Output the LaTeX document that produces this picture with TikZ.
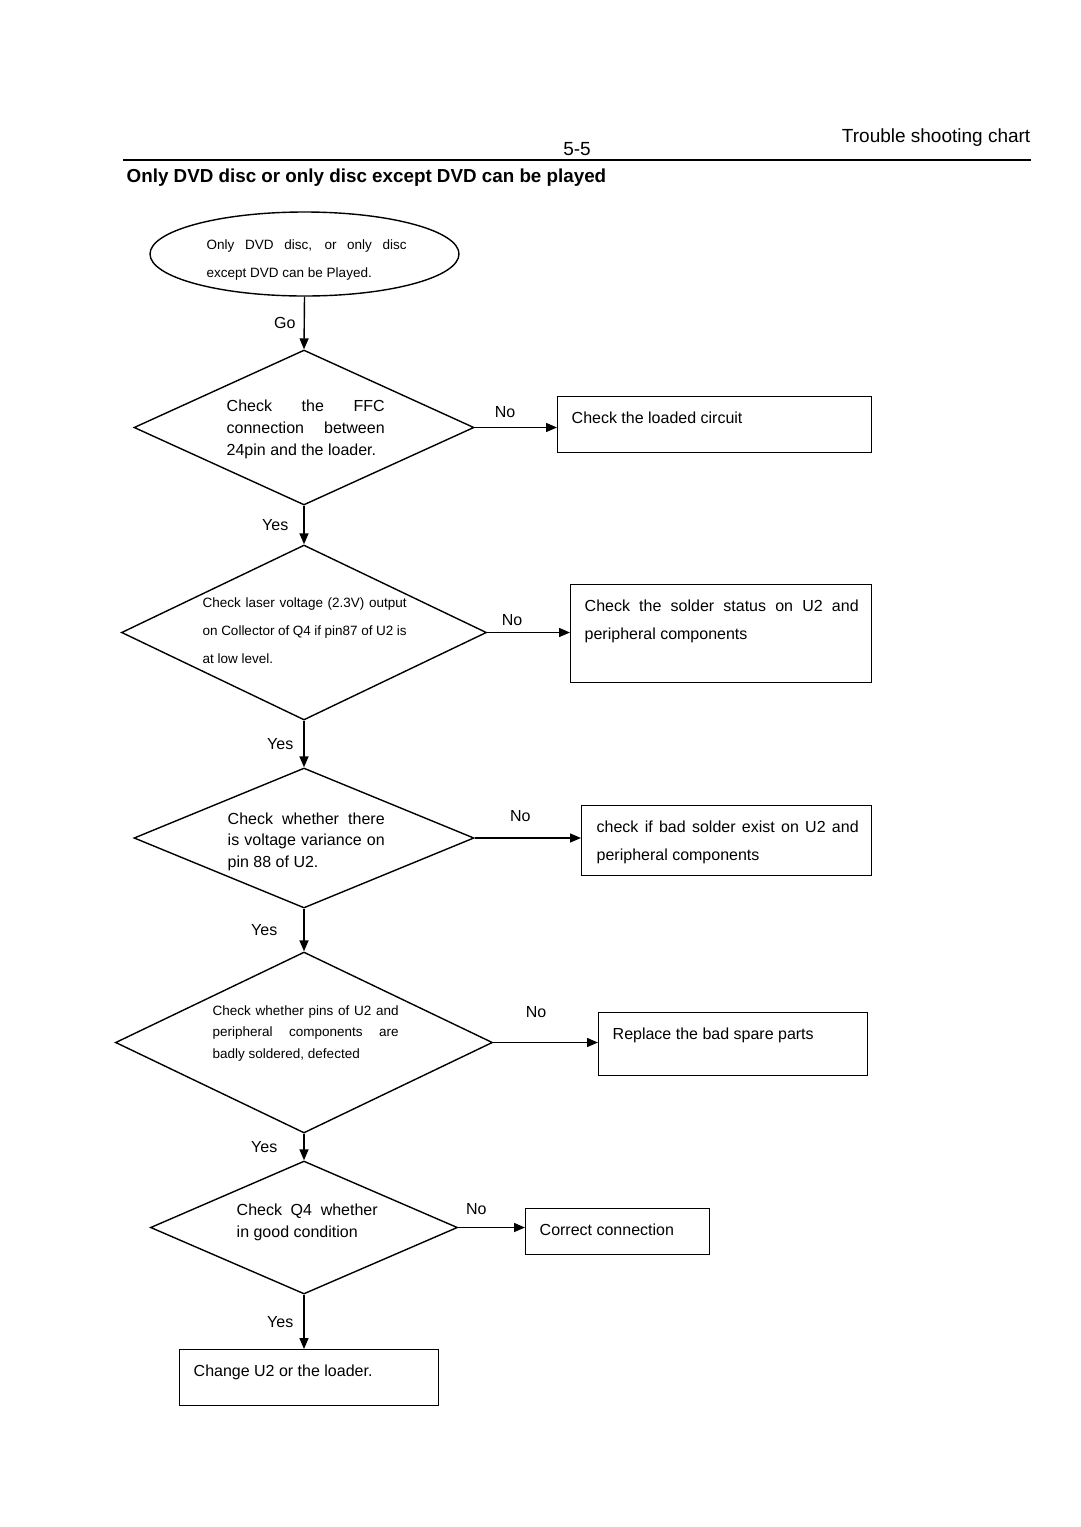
\documentclass[tikz,border=0pt]{standalone}
\usepackage{fontspec}
\setmainfont{Liberation Sans}
\usetikzlibrary{arrows.meta,positioning,calc,shapes.geometric}

\begin{document}
\begin{tikzpicture}[
  x=1pt, y=-1pt,
  >={Triangle[length=11pt,width=9pt]},
  line width=1.4pt,
  dia/.style={draw, diamond, inner sep=0pt},
  box/.style={draw, rectangle, inner sep=0pt, anchor=north west},
  txt/.style={anchor=north west, inner sep=0pt, align=justify, font=\fontsize{16}{22}\selectfont},
  smalltxt/.style={txt, font=\fontsize{13.5}{28}\selectfont},
  lbl/.style={inner sep=0pt, font=\fontsize{16}{19}\selectfont},
  arr/.style={->},
]
\useasboundingbox (0,0) rectangle (1080,1527);

%------------------- Header -------------------
\node (chart) [anchor=east, inner sep=0pt, font=\fontsize{19}{22}\selectfont] at (1031,138) {Trouble shooting chart};
\node (page) [inner sep=0pt, font=\fontsize{19}{22}\selectfont] at (577,149) {5-5};
\coordinate (ruleL) at (123,160);
\coordinate (ruleR) at (1031,160);
\draw[line width=1.5pt] (ruleL) -- (ruleR);
\node (title) [anchor=west, inner sep=0pt, font=\bfseries\fontsize{18.8}{22}\selectfont] at (126,178) {Only DVD disc or only disc except DVD can be played};

%------------------- Start -------------------
\node (start) [draw, ellipse, inner sep=0pt, minimum width=309pt, minimum height=84pt] at (304.5,254) {};
\node (starttxt) [smalltxt, text width=200pt] at (206,239) {Only DVD disc, or only disc\linebreak except DVD can be Played.};

%------------------- Decisions -------------------
\node (d1) [dia, minimum width=340pt, minimum height=155pt] at (304,427.5) {};
\node (d1txt) [txt, text width=158pt] at (226,399) {Check the FFC\linebreak connection between\linebreak 24pin and the loader.};

\node (d2) [dia, minimum width=365pt, minimum height=175pt] at (304,632.5) {};
\node (d2txt) [smalltxt, text width=204pt] at (202,597) {Check laser voltage (2.3V) output\linebreak on Collector of Q4 if pin87 of U2 is\linebreak at low level.};

\node (d3) [dia, minimum width=340pt, minimum height=140pt] at (304,838) {};
\node (d3txt) [txt, text width=157pt, font=\fontsize{16}{21.5}\selectfont] at (227,812) {Check whether there\linebreak is voltage variance on\linebreak pin 88 of U2.};

\node (d4) [dia, minimum width=377pt, minimum height=181pt] at (304,1042.5) {};
\node (d4txt) [smalltxt, text width=186pt, font=\fontsize{13.5}{21.5}\selectfont] at (212,1005) {Check whether pins of U2 and\linebreak peripheral components are\linebreak badly soldered, defected};

\node (d5) [dia, minimum width=307pt, minimum height=133pt] at (304,1227.5) {};
\node (d5txt) [txt, text width=141pt] at (236,1203) {Check Q4 whether\linebreak in good condition};

%------------------- Boxes -------------------
\node (b1) [box, minimum width=314pt, minimum height=56pt] at (557,396) {};
\node (b1txt) [txt] at (571,411) {Check the loaded circuit};

\node (b2) [box, minimum width=301pt, minimum height=98pt] at (570,584) {};
\node (b2txt) [txt, text width=274pt, font=\fontsize{16}{28}\selectfont] at (584,599) {Check the solder status on U2 and\linebreak peripheral components};

\node (b3) [box, minimum width=290pt, minimum height=70pt] at (581,805) {};
\node (b3txt) [txt, text width=262pt, font=\fontsize{16}{28}\selectfont] at (596,820) {check if bad solder exist on U2 and\linebreak peripheral components};

\node (b4) [box, minimum width=269pt, minimum height=63pt] at (598,1012) {};
\node (b4txt) [txt] at (612,1027) {Replace the bad spare parts};

\node (b5) [box, minimum width=184pt, minimum height=46pt] at (525,1208) {};
\node (b5txt) [txt] at (539,1223) {Correct connection};

\node (b6) [box, minimum width=259pt, minimum height=56pt] at (179,1349) {};
\node (b6txt) [txt] at (193,1364) {Change U2 or the loader.};

%------------------- Arrows -------------------
\draw[arr] (start.south) -- node[lbl, left=8pt] {Go} (d1.north);
\draw[arr] (d1.south) -- node[lbl, left=15pt] {Yes} (d2.north);
\draw[arr] (d2.south) -- node[lbl, left=10pt] {Yes} (d3.north);
\draw[arr] (d3.south) -- node[lbl, left=26pt] {Yes} (d4.north);
\draw[arr] (d4.south) -- node[lbl, left=26pt] {Yes} (d5.north);
\draw[arr] (d5.south) -- node[lbl, left=10pt] {Yes} (b6.north-|d5.south);

\draw[arr] (d1.east) -- node[lbl, pos=0.37, above=9pt] {No} (b1.west|-d1.east);
\draw[arr] (d2.east) -- node[lbl, pos=0.30, above=6pt] {No} (b2.west|-d2.east);
\draw[arr] (d3.east) -- node[lbl, pos=0.43, above=16pt] {No} (b3.west|-d3.east);
\draw[arr] (d4.east) -- node[lbl, pos=0.41, above=24pt] {No} (b4.west|-d4.east);
\draw[arr] (d5.east) -- node[lbl, pos=0.27, above=12pt] {No} (b5.west|-d5.east);

\end{tikzpicture}
\end{document}
